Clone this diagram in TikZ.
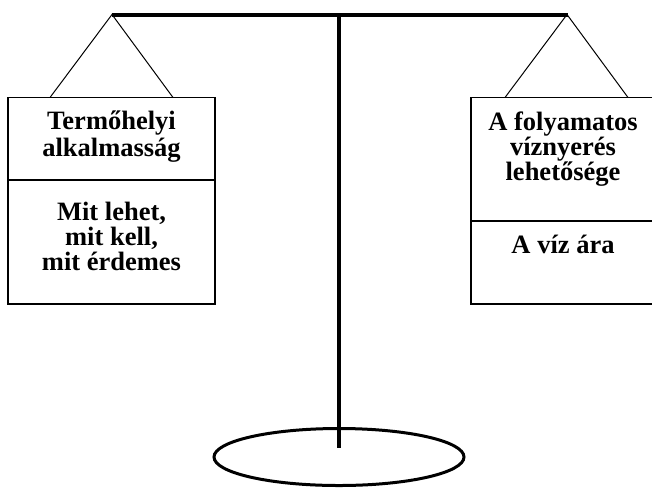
\documentclass[tikz,border=0pt]{standalone}
\usepackage{fontspec}
\setmainfont{Liberation Serif}
\usetikzlibrary{shapes.geometric}
\begin{document}
\begin{tikzpicture}[x=1pt,y=-1pt,
  beam/.style={line width=4pt},
  pole/.style={line width=3.5pt},
  hang/.style={line width=1pt},
  boxline/.style={line width=1.4pt},
  lbl/.style={font=\fontsize{26.5}{26.5}\selectfont\bfseries, anchor=base, inner sep=0pt}]
\useasboundingbox (0,0) rectangle (652,488);
\clip (0,0) rectangle (652,488);
% beam and pole
\coordinate (beamL) at (112,14.5);
\coordinate (beamR) at (567,14.5);
\coordinate (poleTop) at (339,14.5);
\coordinate (poleBot) at (339,448);
\draw[beam] ([xshift=-0.5pt]beamL) -- ([xshift=0.5pt]beamR);
\draw[pole] (poleTop) -- (poleBot);
\node[draw, ellipse, line width=3pt, minimum width=250pt, minimum height=57pt, inner sep=0pt] (base) at (339,457) {};
% hangers
\coordinate (lh1) at (50,97.5);
\coordinate (lh2) at (173,97.5);
\coordinate (rh1) at (505,97.5);
\coordinate (rh2) at (628,97.5);
\draw[hang] (lh1) -- (beamL) -- (lh2);
\draw[hang] (rh1) -- (beamR) -- (rh2);
% left box
\draw[boxline] (8,97.5) rectangle (215,304);
\draw[boxline] (8,180) -- (215,180);
% right box
\draw[boxline] (660,97.5) -- (471,97.5) -- (471,304) -- (660,304);
\draw[boxline] (471,221) -- (660,221);
% texts
\node[lbl] (t1) at (111.5,129) {Termőhelyi};
\node[lbl] (t2) at (111.5,156.5) {alkalmasság};
\node[lbl] (t3) at (111.5,220) {Mit lehet,};
\node[lbl] (t4) at (111.5,245) {mit kell,};
\node[lbl] (t5) at (111.5,270) {mit érdemes};
\node[lbl] (r1) at (563,130) {A folyamatos};
\node[lbl] (r2) at (563,155) {víznyerés};
\node[lbl] (r3) at (563,180) {lehetősége};
\node[lbl] (r4) at (563,253) {A víz ára};
\end{tikzpicture}
\end{document}
